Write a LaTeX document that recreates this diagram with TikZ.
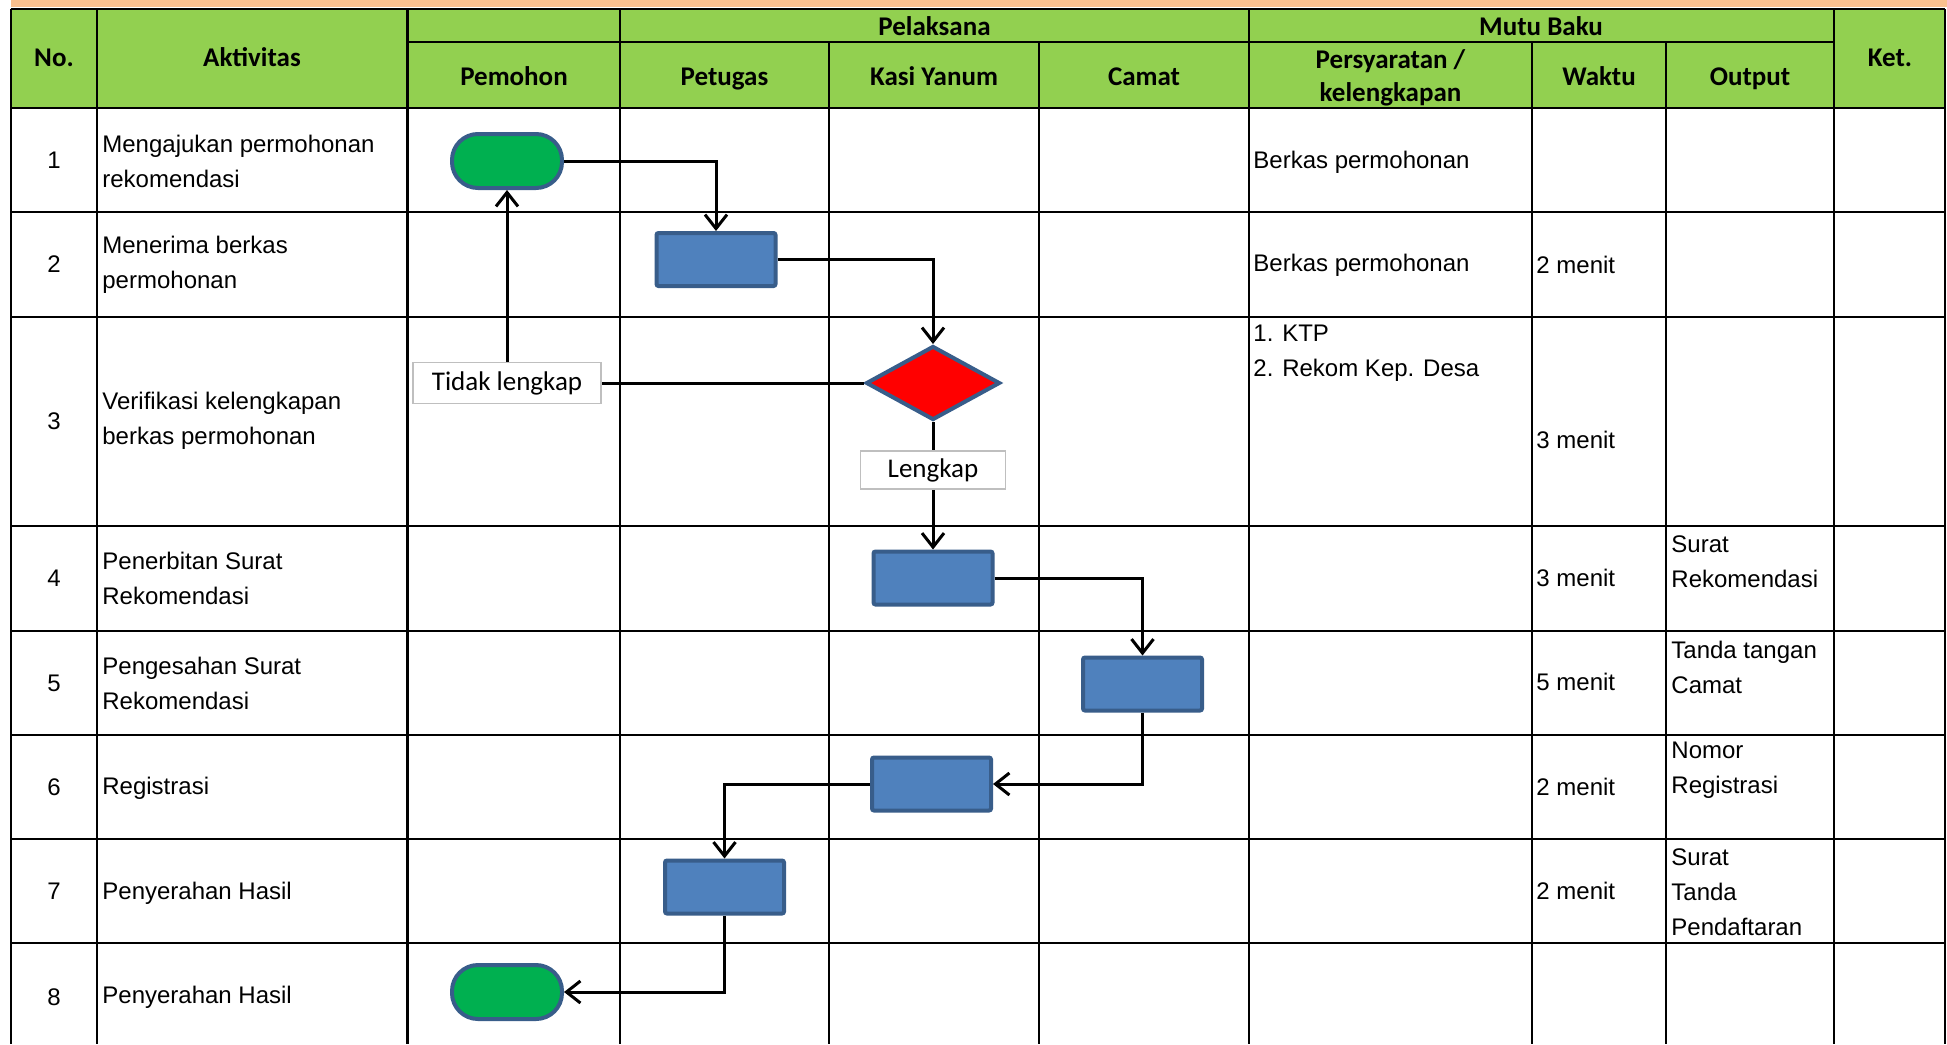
\documentclass[tikz,border=0pt]{standalone}
\usepackage{fontspec}
\setmainfont{Liberation Sans}
\newfontfamily\calibri{Carlito}
\usepackage{tikz}
\usetikzlibrary{arrows.meta,shapes.geometric}
\definecolor{HeadGreen}{RGB}{146,208,80}
\definecolor{BandOrange}{RGB}{250,192,143}
\definecolor{BoxBlue}{RGB}{79,129,189}
\definecolor{EdgeBlue}{RGB}{56,93,138}
\definecolor{TermGreen}{RGB}{0,176,80}
\definecolor{TagGrey}{RGB}{191,191,191}

\tikzset{
  gridline/.style={line width=1.1pt, color=black},
  link/.style={line width=1.5pt},
  flow/.style={line width=1.5pt, -{Straight Barb[length=7pt,width=11pt]}},
  procbox/.style={rectangle, draw=EdgeBlue, fill=BoxBlue, line width=2pt, minimum width=59.5pt, minimum height=26.5pt, inner sep=0pt, rounded corners=1pt},
  termbox/.style={rectangle, rounded corners=13pt, draw=EdgeBlue, fill=TermGreen, line width=2pt, minimum width=55pt, minimum height=27pt, inner sep=0pt},
  decbox/.style={diamond, draw=EdgeBlue, fill=red, line width=2pt, minimum width=67pt, minimum height=37pt, inner sep=0pt},
  tagbox/.style={rectangle, draw=TagGrey, fill=white, line width=0.8pt, inner sep=0pt, font=\calibri\fontsize{13.5}{16}\selectfont},
  headtxt/.style={font=\calibri\bfseries\fontsize{13.5}{16.5}\selectfont, inner sep=0pt, anchor=base},
  celltxt/.style={font=\fontsize{12}{17.5}\selectfont, inner sep=0pt, align=left, anchor=west},
  numtxt/.style={font=\fontsize{12}{17.5}\selectfont, inner sep=0pt},
}

\begin{document}
\begin{tikzpicture}[x=0.5pt,y=0.5pt,yscale=-1,xscale=1]
\useasboundingbox (0,0) rectangle (1947,1044);
\fill [white] (0,0) rectangle (1947,1044);

%Shape: Band
\fill [BandOrange] (11,0) rectangle (1947,7);
%Shape: Header
\fill [HeadGreen] (10.6,9.3) rectangle (1945,108);

%Straight Lines (rows)
\draw [gridline] (10.6,9.3) -- (1945,9.3);
\draw [gridline] (407.5,42) -- (1834,42);
\draw [gridline] (10.6,108) -- (1945,108);
\draw [gridline] (10.6,212) -- (1945,212);
\draw [gridline] (10.6,316.7) -- (1945,316.7);
\draw [gridline] (10.6,526) -- (1945,526);
\draw [gridline] (10.6,631) -- (1945,631);
\draw [gridline] (10.6,735) -- (1945,735);
\draw [gridline] (10.6,839) -- (1945,839);
\draw [gridline] (10.6,943) -- (1945,943);
%Straight Lines (columns)
\draw [gridline] (10.6,9.3) -- (10.6,1044);
\draw [gridline] (97,9.3) -- (97,1044);
\draw [gridline] (407.5,9.3) -- (407.5,1044);
\draw [gridline] (620,9.3) -- (620,1044);
\draw [gridline] (829,42) -- (829,1044);
\draw [gridline] (1038.6,42) -- (1038.6,1044);
\draw [gridline] (1249,9.3) -- (1249,1044);
\draw [gridline] (1532,42) -- (1532,1044);
\draw [gridline] (1666,42) -- (1666,1044);
\draw [gridline] (1834,9.3) -- (1834,1044);
\draw [gridline] (1945,9.3) -- (1945,1044);

%Shapes: Flow
\node [termbox] (mulai) at (507,161) {};
\node [procbox] (terima) at (716,259.5) {};
\node [decbox] (cek) at (933,383) {};
\node [tagbox, minimum width=94pt, minimum height=20.5pt] (tdklkp) at (507,383) {Tidak lengkap};
\node [tagbox, minimum width=72.5pt, minimum height=19pt] (lkp) at (933,470) {Lengkap};
\node [procbox] (terbit) at (933,578) {};
\node [procbox] (sah) at (1142.5,684) {};
\node [procbox] (regis) at (931.5,784) {};
\node [procbox] (serah) at (724.5,887) {};
\node [termbox] (selesai) at (507,992) {};

%Straight Lines (flow)
\draw [flow] (mulai) -| (terima);
\draw [flow] (terima) -| (cek);
\draw [link] (cek) -- (tdklkp);
\draw [flow] (tdklkp) -- (mulai);
\draw [link] (cek) -- (lkp);
\draw [flow] (lkp) -- (terbit);
\draw [flow] (terbit) -| (sah);
\draw [flow] (sah) |- (regis);
\draw [flow] (regis) -| (serah);
\draw [flow] (serah) |- (selesai);

% Text Node (header)
\node [headtxt] (hno) at (54,66.7) {No.};
\node [headtxt] (hakt) at (252,66.7) {Aktivitas};
\node [headtxt] (hpel) at (934.5,35.7) {Pelaksana};
\node [headtxt] (hmutu) at (1541,35.7) {Mutu Baku};
\node [headtxt] (hket) at (1890,66.7) {Ket.};
\node [headtxt] (hpem) at (514,85.7) {Pemohon};
\node [headtxt] (hpet) at (724.5,85.7) {Petugas};
\node [headtxt] (hkasi) at (934,85.7) {Kasi Yanum};
\node [headtxt] (hcam) at (1144,85.7) {Camat};
\node [headtxt] (hsyarat) at (1390.5,68.7) {Persyaratan /};
\node [headtxt] (hlengkap) at (1390.5,101.7) {kelengkapan};
\node [headtxt] (hwaktu) at (1599,85.7) {Waktu};
\node [headtxt] (hout) at (1750,85.7) {Output};

% Text Node (No.)
\node [numtxt] (n1) at (54,160) {1};
\node [numtxt] (n2) at (54,264) {2};
\node [numtxt] (n3) at (54,421) {3};
\node [numtxt] (n4) at (54,578) {4};
\node [numtxt] (n5) at (54,683) {5};
\node [numtxt] (n6) at (54,787) {6};
\node [numtxt] (n7) at (54,891) {7};
\node [numtxt] (n8) at (54,997) {8};

% Text Node (Aktivitas)
\node [celltxt] (a1) at (102,161) {Mengajukan permohonan\\rekomendasi};
\node [celltxt] (a2) at (102,265) {Menerima berkas\\permohonan};
\node [celltxt] (a3) at (102,421) {Verifikasi kelengkapan\\berkas permohonan};
\node [celltxt] (a4) at (102,578.5) {Penerbitan Surat\\Rekomendasi};
\node [celltxt] (a5) at (102,683.5) {Pengesahan Surat\\Rekomendasi};
\node [celltxt] (a6) at (102,788) {Registrasi};
\node [celltxt] (a7) at (102,893) {Penyerahan Hasil};
\node [celltxt] (a8) at (102,997) {Penyerahan Hasil};

% Text Node (Persyaratan)
\node [celltxt] (s1) at (1253,162) {Berkas permohonan};
\node [celltxt] (s2) at (1253,265) {Berkas permohonan};
\node [celltxt] (s3) at (1253,353.5) {1. KTP\\2. Rekom Kep. Desa};

% Text Node (Waktu)
\node [celltxt] (w2) at (1536,265) {2 menit};
\node [celltxt] (w3) at (1536,440) {3 menit};
\node [celltxt] (w4) at (1536,578) {3 menit};
\node [celltxt] (w5) at (1536,682) {5 menit};
\node [celltxt] (w6) at (1536,787) {2 menit};
\node [celltxt] (w7) at (1536,891) {2 menit};

% Text Node (Output)
\node [celltxt] (o4) at (1671,561.5) {Surat\\Rekomendasi};
\node [celltxt] (o5) at (1671,667) {Tanda tangan\\Camat};
\node [celltxt] (o6) at (1671,770.5) {Nomor\\Registrasi};
\node [celltxt] (o7) at (1671,892.5) {Surat\\Tanda\\Pendaftaran};

\end{tikzpicture}
\end{document}
